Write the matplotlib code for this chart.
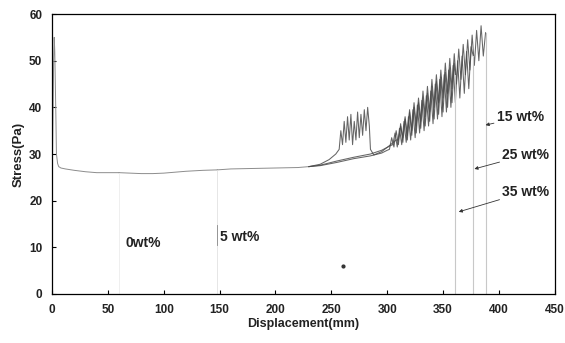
import matplotlib
matplotlib.use("Agg")
import matplotlib.pyplot as plt

plt.rcParams['font.family'] = ['Liberation Sans', 'DejaVu Sans']

# shared start: spike then flat plateau
base_x = [0, 0.5, 1, 1.5, 2, 2.5, 3, 3.5, 4, 5, 6, 8, 12, 20, 30, 40, 50, 60]
base_y = [0, 30, 40, 50, 55, 52, 45, 38, 30, 28, 27.3, 27, 26.8, 26.5, 26.2, 26, 26, 26]

# plateau continuation (5 wt% and up)
mid_x = [70, 80, 90, 100, 110, 120, 135, 148]
mid_y = [25.9, 25.8, 25.8, 25.9, 26.1, 26.3, 26.5, 26.6]

late_x = [160, 180, 200, 220, 230]
late_y = [26.8, 26.9, 27.0, 27.1, 27.3]

# 15 wt%: bundle at 257-284, then the band up to 388
x15 = [240, 248, 254, 257, 258.5, 260, 261.5, 263, 264.5, 266, 267.5, 269, 270.5,
       272, 273.5, 275, 276.5, 278, 279.5, 281, 282.5, 284, 285, 288, 295, 302, 308,
       310, 312, 314, 316, 318, 320, 322, 324, 326, 328, 330, 332, 334, 336, 338, 340,
       342, 344, 346, 348, 350, 352, 354, 356, 358, 360, 362, 364, 366, 368, 370, 372,
       374, 376, 378, 380, 382, 384, 386, 388, 388]
y15 = [27.8, 28.8, 30, 31, 35, 32, 37, 32.5, 38, 33, 38.5, 32, 37,
       33, 39, 33.5, 38.5, 34, 39.5, 35, 40, 36, 31, 29.8, 30.5, 31.8, 33,
       33, 36, 33.5, 38, 34, 39.5, 35, 41, 36, 42, 37, 43.5, 38, 44.5, 39, 46,
       40, 47, 41, 48, 42, 49.5, 43, 50.5, 44, 51.5, 45, 52.5, 46, 53.5, 47, 54.5,
       48, 55.5, 49, 56.5, 50, 57.5, 51, 56, 0]

x25 = [240, 255, 270, 285, 295, 303, 305, 307, 309, 311, 313, 315, 317, 319, 321, 323,
       325, 327, 329, 331, 333, 335, 337, 339, 341, 343, 345, 347, 349, 351, 353, 355,
       357, 359, 361, 363, 365, 367, 369, 371, 373, 375, 377, 377]
y25 = [27.6, 28.5, 29.3, 30, 30.8, 31.8, 32, 34.5, 31.5, 35.5, 32, 37, 32.5, 38, 33, 39.5,
       33.5, 40.5, 34.5, 41.5, 35, 42.5, 36, 43.5, 36.5, 45, 37.5, 46, 38, 47, 39, 48,
       40, 49, 41, 50, 42, 51, 43, 52, 44, 53, 51, 0]

x35 = [240, 255, 270, 285, 295, 300, 302, 304, 306, 308, 310, 312, 314, 316, 318, 320,
       322, 324, 326, 328, 330, 332, 334, 336, 338, 340, 342, 344, 346, 348, 350, 352,
       354, 356, 358, 360, 361, 361]
y35 = [27.5, 28.2, 29, 29.6, 30.2, 30.8, 31, 33.5, 31.5, 35, 32, 36.5, 32.5, 37.5, 33, 39,
       34, 40, 34.5, 41, 35.5, 42, 36, 43, 37, 44.5, 37.5, 45.5, 38.5, 46.5, 39, 47.5,
       40, 48.5, 41, 49.5, 47, 0]

# faint drops of the 0 and 5 wt% samples
drop0_x = [60, 60]
drop0_y = [26, 0]
drop5_x = [148, 148]
drop5_y = [26.6, 0]
dot_x = [260]
dot_y = [6]

labels = ['0wt%', '5 wt%', '15 wt%', '25 wt%', '35 wt%']

fig = plt.figure(figsize=(5.65, 3.43), dpi=100)
ax = fig.add_axes([0.092, 0.143, 0.890, 0.816])

flat_c = '#8c8c8c'
band_c = '#4a4a4a'
drop_c = '#c8c8c8'

ax.plot(base_x, base_y, color=flat_c, lw=0.7)
ax.plot([base_x[-1]] + mid_x, [base_y[-1]] + mid_y, color=flat_c, lw=0.7)
ax.plot([mid_x[-1]] + late_x, [mid_y[-1]] + late_y, color=flat_c, lw=0.7)
for xs, ys in [(x15, y15), (x25, y25), (x35, y35)]:
    ax.plot([late_x[-1]] + xs[:-1], [late_y[-1]] + ys[:-1], color=band_c, lw=0.75, alpha=0.85)
    ax.plot(xs[-2:], ys[-2:], color=drop_c, lw=0.8)
ax.plot(drop0_x, drop0_y, color='#ececec', lw=0.6)
ax.plot(drop5_x, drop5_y, color='#e2e2e2', lw=0.6)
ax.plot([148, 148], [10.5, 14.8], color='#888888', lw=0.6)
ax.scatter(dot_x, dot_y, s=4, color='#333333', zorder=3)

ax.set_xlim(0, 450)
ax.set_ylim(0, 60)
ax.set_xticks(range(0, 451, 50))
ax.set_yticks(range(0, 61, 10))
ax.tick_params(direction='in', length=3, width=0.8, labelsize=8.5, pad=7)
for lab in ax.get_xticklabels() + ax.get_yticklabels():
    lab.set_fontweight('bold')
    lab.set_color('#222222')
for s in ax.spines.values():
    s.set_linewidth(0.9)

ax.set_xlabel('Displacement(mm)', fontsize=9, fontweight='bold', labelpad=2, color='#222222')
ax.set_ylabel('Stress(Pa)', fontsize=9.5, fontweight='bold', labelpad=3, color='#222222')

fs = 10
ax.text(66, 10.9, labels[0], fontsize=fs, fontweight='bold', va='center', color='#222222')
ax.text(150, 12.2, labels[1], fontsize=fs, fontweight='bold', va='center', color='#222222')

arrow = dict(arrowstyle='-|>', lw=0.6, color='#333333', mutation_scale=5, shrinkA=0, shrinkB=0)
ax.annotate(labels[2], xy=(388, 36.2), xytext=(398, 37.9), fontsize=fs, fontweight='bold',
            va='center', color='#222222', arrowprops=arrow)
ax.annotate(labels[3], xy=(378, 26.8), xytext=(403, 29.8), fontsize=fs, fontweight='bold',
            va='center', color='#222222', arrowprops=arrow)
ax.annotate(labels[4], xy=(364, 17.6), xytext=(403, 21.9), fontsize=fs, fontweight='bold',
            va='center', color='#222222', arrowprops=arrow)

fig.savefig('out.png', dpi=100)
